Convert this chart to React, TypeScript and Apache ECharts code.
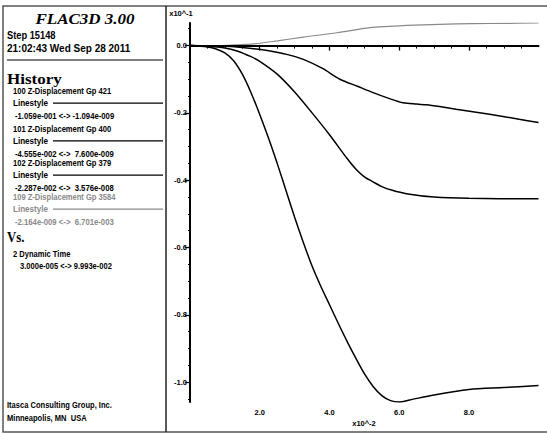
import { useEffect, useRef } from "react";
import * as echarts from "echarts";

// Dynamic time (x10^-2 s) and Z-displacement (x10^-1) histories
const timeGp421 = [0.003, 0.5, 0.75, 1.0, 1.25, 1.5, 1.75, 2.0, 2.25, 2.5, 2.75, 3.0, 3.25, 3.5, 3.75, 4.0, 4.25, 4.5, 4.75, 5.0, 5.25, 5.5, 5.75, 6.0, 6.3, 7.0, 8.0, 9.0, 9.993];
const dispGp421 = [0, -0.004, -0.01, -0.022, -0.045, -0.085, -0.14, -0.205, -0.275, -0.35, -0.43, -0.51, -0.585, -0.655, -0.715, -0.77, -0.825, -0.878, -0.928, -0.975, -1.013, -1.04, -1.055, -1.059, -1.053, -1.038, -1.022, -1.016, -1.01];

const timeGp400 = [0.003, 0.5, 1.0, 1.35, 1.75, 2.0, 2.5, 3.0, 3.5, 4.0, 4.5, 4.78, 5.0, 5.25, 5.5, 5.8, 6.2, 7.0, 8.0, 9.993];
const dispGp400 = [0, -0.002, -0.007, -0.016, -0.033, -0.047, -0.085, -0.138, -0.2, -0.265, -0.335, -0.37, -0.39, -0.405, -0.419, -0.43, -0.44, -0.45, -0.454, -0.4555];

const timeGp379 = [0.003, 1.0, 1.35, 2.3, 2.8, 3.25, 3.8, 4.3, 4.8, 5.25, 5.7, 6.11, 6.5, 6.78, 7.2, 7.63, 8.59, 9.44, 9.993];
const dispGp379 = [0, -0.002, -0.004, -0.016, -0.027, -0.041, -0.068, -0.1, -0.121, -0.14, -0.157, -0.17, -0.174, -0.176, -0.182, -0.189, -0.204, -0.219, -0.2287];

const timeGp3584 = [0.003, 0.87, 1.3, 1.82, 2.5, 3.25, 4.21, 5.16, 5.7, 6.21, 7.16, 8.11, 9.0, 9.993];
const dispGp3584 = [0, 0, 0.002, 0.005, 0.014, 0.025, 0.038, 0.053, 0.057, 0.06, 0.063, 0.065, 0.066, 0.067];

const yTicks = [0, -0.2, -0.4, -0.6, -0.8, -1.0];
const yMinorTicks = [0.05, -0.05, -0.1, -0.15, -0.25, -0.3, -0.35, -0.45, -0.5, -0.55, -0.65, -0.7, -0.75, -0.85, -0.9, -0.95, -1.05];
const xTicks = [2, 4, 6, 8];
const xMinorTicks = [0.5, 1, 1.5, 2.5, 3, 3.5, 4.5, 5, 5.5, 6.5, 7, 7.5, 8.5, 9, 9.5];

const historyNames = [
  "100 Z-Displacement Gp 421",
  "101 Z-Displacement Gp 400",
  "102 Z-Displacement Gp 379",
  "109 Z-Displacement Gp 3584",
];
const historyRanges = [
  "-1.059e-001 <-> -1.094e-009",
  "-4.555e-002 <->  7.600e-009",
  "-2.287e-002 <->  3.576e-008",
  "-2.164e-009 <->  6.701e-003",
];
const historyColors = ["#000", "#000", "#000", "#8a8a8a"];

const zip = (t: number[], v: number[]) => t.map((x, i) => [x, v[i]]);

const SANS = 'Arial, "Liberation Sans", sans-serif';
const SERIF = '"Times New Roman", "Liberation Serif", serif';
const ITEM_FONT = `bold 9px ${SANS}`;

function txt(text: string, x: number, y: number, font: string, fill = "#000", align = "left", sx = 1, sy = 1) {
  return {
    type: "text",
    x,
    y,
    scaleX: sx,
    scaleY: sy,
    silent: true,
    style: { text, font, fill, textAlign: align, textVerticalAlign: "middle" },
  };
}

export default function App() {
  const ref = useRef<HTMLDivElement>(null);
  useEffect(() => {
    if (!ref.current) return;
    const chart = echarts.init(ref.current, undefined, { renderer: "svg" });

    const graphic: any[] = [
      { type: "rect", shape: { x: 3, y: 6, width: 546, height: 426 }, style: { fill: "none", stroke: "#555", lineWidth: 1.5 }, silent: true },
      { type: "line", shape: { x1: 166, y1: 6, x2: 166, y2: 432 }, style: { stroke: "#222", lineWidth: 1.5 }, silent: true },
      txt("FLAC3D 3.00", 85, 19, `italic bold 17px ${SERIF}`, "#000", "center", 1, 0.9),
      txt("Step 15148", 7, 35, `bold 10px ${SANS}`, "#000", "left", 0.93),
      txt("21:02:43 Wed Sep 28 2011", 7, 48, `bold 10px ${SANS}`, "#000", "left", 1),
      { type: "line", shape: { x1: 7, y1: 60, x2: 163, y2: 60 }, style: { stroke: "#000", lineWidth: 1 }, silent: true },
      txt("History", 7, 79, `bold 17px ${SERIF}`, "#000", "left", 1, 0.85),
      txt("Vs.", 7, 237, `bold 15px ${SERIF}`, "#000", "left", 0.85, 1),
      txt("2 Dynamic Time", 13, 254, ITEM_FONT, "#000", "left", 0.84),
      txt("3.000e-005 <-> 9.993e-002", 20, 266, ITEM_FONT, "#000", "left", 0.84),
      txt("Itasca Consulting Group, Inc.", 7, 405, ITEM_FONT, "#000", "left", 0.84),
      txt("Minneapolis, MN  USA", 7, 418, ITEM_FONT, "#000", "left", 0.84),
      txt("x10^-1", 181, 13, `bold 7.5px ${SANS}`, "#000", "center"),
      txt("x10^-2", 364, 423, `bold 7.5px ${SANS}`, "#000", "center"),
    ];
    const rowY = [90.7, 128.3, 162.7, 196.7];
    historyNames.forEach((name, i) => {
      const y0 = rowY[i];
      const c = historyColors[i];
      graphic.push(txt(name, 13, y0, ITEM_FONT, c, "left", 0.84));
      graphic.push(txt("Linestyle", 13, y0 + 12.5, ITEM_FONT, c, "left", 0.9));
      graphic.push({ type: "line", shape: { x1: 53, y1: y0 + 12.5, x2: 163, y2: y0 + 12.5 }, style: { stroke: c, lineWidth: 1.2 }, silent: true });
      graphic.push(txt(historyRanges[i], 15, y0 + 25, ITEM_FONT, c, "left", 0.86));
    });

    const axisLabelStyle = { fontSize: 7.5, fontWeight: "bold" as const, color: "#000", fontFamily: SANS };

    const lineSeries = (name: string, data: number[][], color: string, width: number, extra: any = {}) => ({
      name,
      type: "line",
      data,
      showSymbol: false,
      smooth: 0.3,
      lineStyle: { color, width },
      itemStyle: { color },
      z: 3,
      ...extra,
    });

    chart.setOption({
      animation: false,
      backgroundColor: "#fff",
      grid: { left: 190, right: 8.5, top: 23, bottom: 32 },
      xAxis: [
        {
          type: "value",
          min: 0,
          max: 9.993,
          axisLine: { lineStyle: { color: "#000", width: 2 } },
          axisTick: { customValues: xMinorTicks, length: 3, lineStyle: { color: "#000", width: 1 } },
          axisLabel: { customValues: xTicks, formatter: (v: number) => v.toFixed(1), margin: 6, ...axisLabelStyle },
          splitLine: { show: false },
        },
        {
          type: "value",
          min: 0,
          max: 9.993,
          position: "bottom",
          axisLine: { show: false },
          axisTick: { customValues: xTicks, length: 5, lineStyle: { color: "#000", width: 1.3 } },
          axisLabel: { show: false },
          splitLine: { show: false },
        },
      ],
      yAxis: [
        {
          type: "value",
          min: -1.059,
          max: 0.067,
          axisLine: { show: true, lineStyle: { color: "#000", width: 2 } },
          axisTick: { show: true, customValues: yTicks, length: 5, lineStyle: { color: "#000", width: 1.3 } },
          axisLabel: {
            customValues: yTicks,
            formatter: (v: number) => (Math.abs(v) < 1e-9 ? "0.0" : v.toFixed(1)),
            margin: 3,
            ...axisLabelStyle,
          },
          splitLine: { show: false },
        },
        {
          type: "value",
          min: -1.059,
          max: 0.067,
          position: "left",
          axisLine: { show: false },
          axisTick: { show: true, customValues: yMinorTicks, length: 2, lineStyle: { color: "#000", width: 1 } },
          axisLabel: { show: false },
          splitLine: { show: false },
        },
      ],
      series: [
        lineSeries("109 Z-Displacement Gp 3584", zip(timeGp3584, dispGp3584), "#8a8a8a", 1.2, {
          markLine: {
            silent: true,
            symbol: ["none", "none"],
            label: { show: false },
            lineStyle: { color: "#000", width: 2, type: "solid" },
            data: [{ yAxis: 0 }],
          },
        }),
        lineSeries("102 Z-Displacement Gp 379", zip(timeGp379, dispGp379), "#000", 1.5),
        lineSeries("101 Z-Displacement Gp 400", zip(timeGp400, dispGp400), "#000", 1.5),
        lineSeries("100 Z-Displacement Gp 421", zip(timeGp421, dispGp421), "#000", 1.5),
      ],
      graphic,
    });

    return () => chart.dispose();
  }, []);

  return <div ref={ref} style={{ position: "absolute", left: 0, top: 0, width: 547, height: 434, background: "#fff" }} />;
}
